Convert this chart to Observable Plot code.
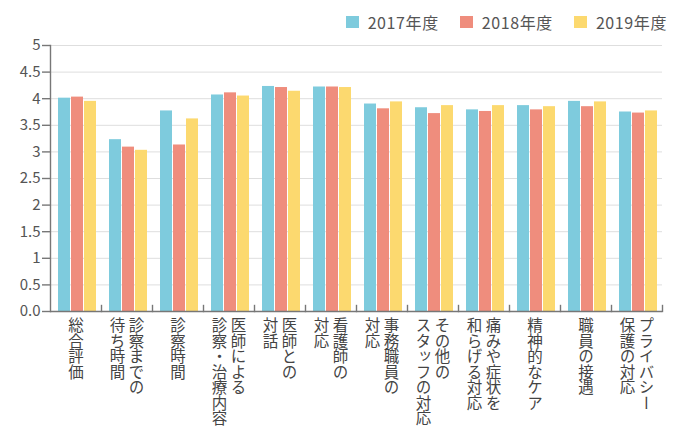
<!DOCTYPE html>
<html>
<head>
<meta charset="utf-8">
<script src="https://cdn.jsdelivr.net/npm/d3@7"></script>
<script src="https://cdn.jsdelivr.net/npm/@observablehq/plot@0.6"></script>
<style>
  body { margin: 0; background: #fff; font-family: "Noto Sans CJK JP", "Noto Sans", sans-serif; }
  #legend { height: 30px; display: flex; justify-content: flex-end; align-items: center; padding-right: 17px; box-sizing: border-box; padding-top: 14px; }
  .item { display: flex; align-items: center; margin-left: 21px; font-size: 16px; color: #555; letter-spacing: 0.6px; }
  .sw { width: 13px; height: 12px; margin-right: 9px; }
</style>
</head>
<body>
<div id="legend"></div>
<div id="chart"></div>
<script>
const categories = ["総合評価", "診察までの待ち時間", "診察時間", "医師による診察・治療内容", "医師との対話", "看護師の対応", "事務職員の対応", "その他のスタッフの対応", "痛みや症状を和らげる対応", "精神的なケア", "職員の接遇", "プライバシー保護の対応"];
const labelLines = [["総合評価"], ["診察までの", "待ち時間"], ["診察時間"], ["医師による", "診察・治療内容"], ["医師との", "対話"], ["看護師の", "対応"], ["事務職員の", "対応"], ["その他の", "スタッフの対応"], ["痛みや症状を", "和らげる対応"], ["精神的なケア"], ["職員の接遇"], ["プライバシー", "保護の対応"]];
const years = ["2017年度", "2018年度", "2019年度"];
const v2017 = [4.01, 3.23, 3.77, 4.07, 4.23, 4.22, 3.90, 3.83, 3.79, 3.87, 3.95, 3.75];
const v2018 = [4.03, 3.09, 3.13, 4.11, 4.21, 4.22, 3.81, 3.72, 3.76, 3.79, 3.85, 3.73];
const v2019 = [3.95, 3.03, 3.62, 4.05, 4.14, 4.21, 3.94, 3.87, 3.87, 3.85, 3.94, 3.77];
const yTicks = [0, 0.5, 1, 1.5, 2, 2.5, 3, 3.5, 4, 4.5, 5];
const colors = ["#7ecbdd", "#ef8d7d", "#fcd96f"];

const series = [v2017, v2018, v2019];
const data = [];
categories.forEach((c, i) => years.forEach((y, j) => data.push({cat: c, year: y, value: series[j][i]})));
const labels = categories.map((c, i) => ({cat: c, lines: labelLines[i]}));

const legend = document.getElementById("legend");
years.forEach((y, j) => {
  const it = document.createElement("div");
  it.className = "item";
  it.innerHTML = `<span class="sw" style="background:${colors[j]}"></span><span>${y}</span>`;
  legend.appendChild(it);
});

const height = 398, marginTop = 15, marginBottom = 117;
const plotH = height - marginTop - marginBottom;
const textOpts = {fx: "cat", frameAnchor: "bottom", textAnchor: "start", lineAnchor: "bottom", dy: 6, fontSize: 15.5, fill: "#444"};

const chart = Plot.plot({
  width: 684,
  height,
  marginLeft: 47,
  marginRight: 19,
  marginTop,
  marginBottom,
  style: {fontFamily: "'Noto Sans CJK JP', sans-serif", background: "#fff"},
  fx: {domain: categories, padding: 0, axis: null},
  x: {domain: years, paddingInner: 0.1, paddingOuter: 0.48, align: 0.62, axis: null},
  y: {domain: [0, 5], axis: null},
  color: {domain: years, range: colors},
  marks: [
    Plot.ruleY(yTicks.filter(d => d > 0), {y: d => d, stroke: "#dedede", strokeWidth: 1}),
    Plot.barY(data, {fx: "cat", x: "year", y: "value", fill: "year"}),
    Plot.ruleY([0], {stroke: "#777", strokeWidth: 1.4}),
    Plot.frame({anchor: "right", insetTop: plotH - 6, stroke: "#777", strokeWidth: 1.4}),
    Plot.frame({anchor: "left", facetAnchor: "left", stroke: "#777", strokeWidth: 1.4}),
    Plot.axisY({ticks: yTicks, tickFormat: d => d === 0 ? "0.0" : String(d), label: null, tickSize: 8, tickPadding: 2, fontSize: 15, color: "#555", stroke: "#777", strokeWidth: 1.4}),
    Plot.text(labels.filter(d => d.lines.length === 1), {...textOpts, text: d => d.lines[0], dx: 0}),
    Plot.text(labels.filter(d => d.lines.length === 2), {...textOpts, text: d => d.lines[0], dx: 9.5}),
    Plot.text(labels.filter(d => d.lines.length === 2), {...textOpts, text: d => d.lines[1], dx: -9.5})
  ]
});
document.getElementById("chart").appendChild(chart);
d3.select(chart).selectAll('g[aria-label="text"] text')
  .style("writing-mode", "vertical-rl")
  .style("text-orientation", "mixed");
</script>
</body>
</html>
